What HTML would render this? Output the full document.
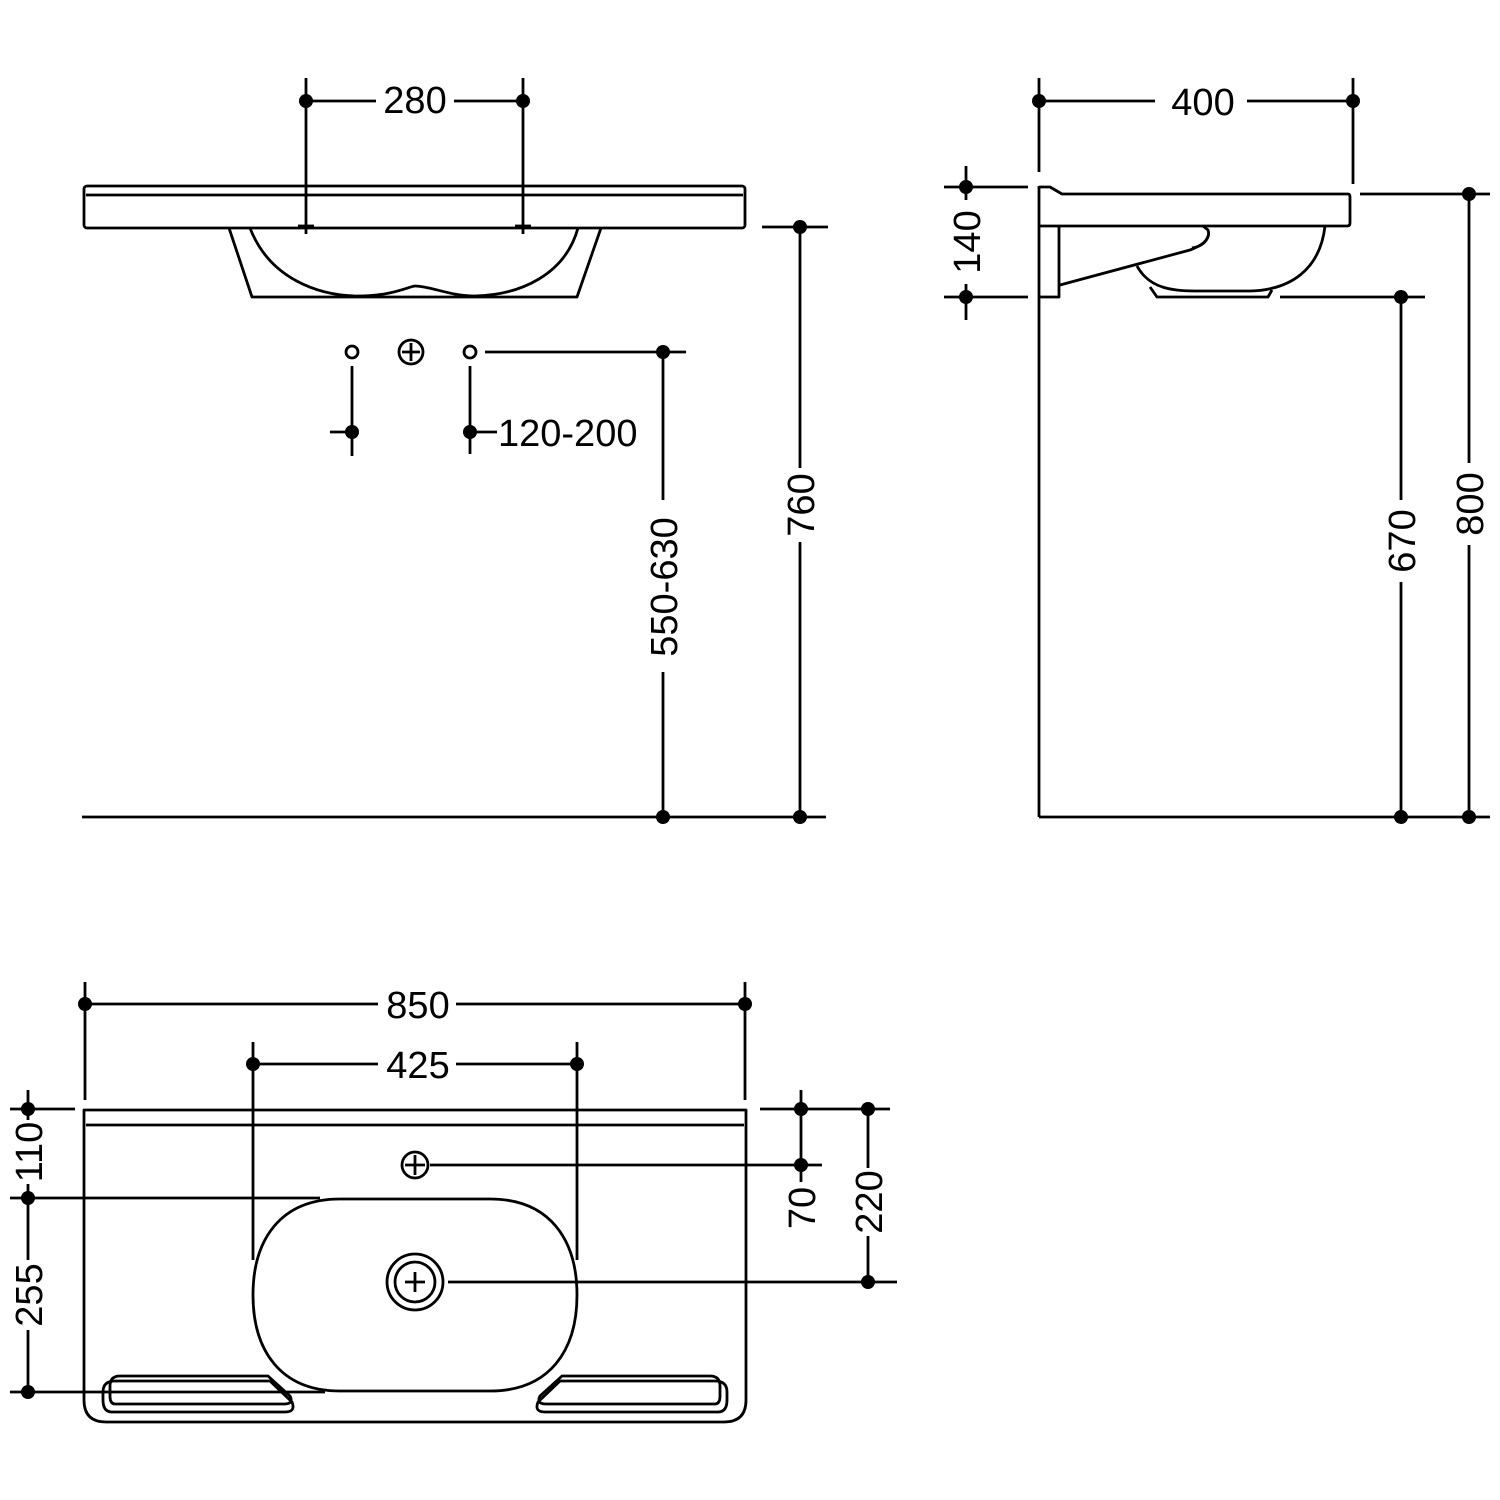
<!DOCTYPE html>
<html><head><meta charset="utf-8"><style>
html,body{margin:0;padding:0;background:#fff;}
svg{display:block;}
text{font-family:"Liberation Sans",Arial,sans-serif;font-size:38px;fill:#000;}
</style></head><body>
<svg width="1500" height="1500" viewBox="0 0 1500 1500" xmlns="http://www.w3.org/2000/svg">
<g fill="none" stroke="#000" stroke-width="2.8" stroke-linejoin="round">
<rect x="84" y="186" width="661" height="42" rx="3"/>
<line x1="86" y1="195" x2="743" y2="195"/>
<path d="M229,228 L252,297 L577,297 L601,228"/>
<path d="M250,228 C270,280 320,295 355,296 C390,297 410,286 415,286 C430,286 450,296 475,296 C520,295 565,275 578,228"/>
<line x1="306" y1="78" x2="306" y2="234"/>
<line x1="523" y1="78" x2="523" y2="234"/>
<line x1="298" y1="226" x2="314" y2="226"/>
<line x1="515" y1="226" x2="531" y2="226"/>
<line x1="306" y1="101" x2="376" y2="101"/>
<line x1="454" y1="101" x2="523" y2="101"/>
<circle cx="352" cy="352" r="6"/>
<circle cx="470" cy="352" r="6"/>
<circle cx="411" cy="352" r="12"/>
<line x1="411" y1="343" x2="411" y2="361"/><line x1="402" y1="352" x2="420" y2="352"/>
<line x1="352" y1="366" x2="352" y2="456"/>
<line x1="330" y1="432" x2="352" y2="432"/>
<line x1="470" y1="366" x2="470" y2="454"/>
<line x1="470" y1="432" x2="497" y2="432"/>
<line x1="485" y1="352" x2="686" y2="352"/>
<line x1="663" y1="352" x2="663" y2="500"/>
<line x1="663" y1="672" x2="663" y2="817"/>
<line x1="762" y1="227" x2="828" y2="227"/>
<line x1="800" y1="227" x2="800" y2="468"/>
<line x1="800" y1="542" x2="800" y2="817"/>
<line x1="82" y1="817" x2="826" y2="817"/>

<line x1="1039" y1="78" x2="1039" y2="172"/>
<line x1="1353" y1="78" x2="1353" y2="184"/>
<line x1="1039" y1="101" x2="1155" y2="101"/>
<line x1="1247" y1="101" x2="1353" y2="101"/>
<line x1="1039" y1="186" x2="1039" y2="817"/>
<line x1="1039" y1="817" x2="1490" y2="817"/>
<path d="M1039,187 L1050,187 L1062,194 L1348,194 Q1350,194 1350,197 L1350,223 Q1350,226 1347,226 L1039,226"/>
<path d="M1059,226 L1059,297 L1039,297"/>
<path d="M1060,285 L1190,250 Q1212,242 1208,230 L1203,226"/>
<path d="M1192,248 Q1205,246 1208,236"/>
<path d="M1137,266 C1150,290 1175,291 1200,291 L1250,291 C1290,290 1320,270 1325,226"/>
<path d="M1150,287 L1157,297 L1268,297 L1272,290"/>
<line x1="944" y1="187" x2="1028" y2="187"/>
<line x1="944" y1="297" x2="1028" y2="297"/>
<line x1="966" y1="166" x2="966" y2="200"/>
<line x1="966" y1="284" x2="966" y2="320"/>
<line x1="1280" y1="297" x2="1425" y2="297"/>
<line x1="1401" y1="297" x2="1401" y2="500"/>
<line x1="1401" y1="582" x2="1401" y2="817"/>
<line x1="1360" y1="194" x2="1490" y2="194"/>
<line x1="1469" y1="194" x2="1469" y2="463"/>
<line x1="1469" y1="545" x2="1469" y2="817"/>

<line x1="85" y1="982" x2="85" y2="1100"/>
<line x1="745" y1="982" x2="745" y2="1100"/>
<line x1="85" y1="1004" x2="378" y2="1004"/>
<line x1="456" y1="1004" x2="745" y2="1004"/>
<line x1="253" y1="1042" x2="253" y2="1260"/>
<line x1="577" y1="1042" x2="577" y2="1260"/>
<line x1="253" y1="1064" x2="378" y2="1064"/>
<line x1="456" y1="1064" x2="577" y2="1064"/>
<path d="M84,1110 L746,1110 L746,1400 Q746,1422 724,1422 L106,1422 Q84,1422 84,1400 Z"/>
<line x1="86" y1="1125" x2="744" y2="1125"/>
<circle cx="415" cy="1165" r="13"/>
<line x1="415" y1="1155" x2="415" y2="1175"/><line x1="405" y1="1165" x2="425" y2="1165"/>
<line x1="430" y1="1165" x2="822" y2="1165"/>
<path d="M340,1199 L490,1199 C550,1199 577,1240 577,1295 C577,1350 550,1391 490,1391 L340,1391 C280,1391 253,1350 253,1295 C253,1240 280,1199 340,1199 Z"/>
<circle cx="415" cy="1282" r="28"/>
<circle cx="415" cy="1282" r="20"/>
<line x1="415" y1="1272" x2="415" y2="1292"/><line x1="405" y1="1282" x2="425" y2="1282"/>
<line x1="448" y1="1282" x2="897" y2="1282"/>
<path d="M115,1381 L270,1381 L292,1402 Q296,1412 285,1412 L112,1412 Q103,1412 103,1400 L103,1392 Q103,1381 115,1381 Z"/>
<path d="M120,1376 L268,1376 L290,1396 Q294,1404 284,1404 L115,1404 Q110,1404 110,1396 L110,1386 Q110,1376 120,1376 Z"/>
<path d="M715,1381 L560,1381 L538,1402 Q534,1412 545,1412 L718,1412 Q727,1412 727,1400 L727,1392 Q727,1381 715,1381 Z"/>
<path d="M710,1376 L562,1376 L540,1396 Q536,1404 546,1404 L715,1404 Q720,1404 720,1396 L720,1386 Q720,1376 710,1376 Z"/>
<line x1="10" y1="1109" x2="75" y2="1109"/>
<line x1="10" y1="1198" x2="320" y2="1198"/>
<line x1="10" y1="1392" x2="325" y2="1392"/>
<line x1="28" y1="1090" x2="28" y2="1120"/>
<line x1="28" y1="1184" x2="28" y2="1260"/>
<line x1="28" y1="1330" x2="28" y2="1392"/>
<line x1="760" y1="1109" x2="890" y2="1109"/>
<line x1="801" y1="1090" x2="801" y2="1182"/>
<line x1="868" y1="1109" x2="868" y2="1168"/>
<line x1="868" y1="1236" x2="868" y2="1282"/>
</g>
<g fill="#000">
<circle cx="306" cy="101" r="7"/><circle cx="523" cy="101" r="7"/>
<circle cx="352" cy="432" r="7"/><circle cx="470" cy="432" r="7"/>
<circle cx="663" cy="352" r="7"/><circle cx="663" cy="817" r="7"/>
<circle cx="800" cy="227" r="7"/><circle cx="800" cy="817" r="7"/>
<circle cx="1039" cy="101" r="7"/><circle cx="1353" cy="101" r="7"/>
<circle cx="966" cy="187" r="7"/><circle cx="966" cy="297" r="7"/>
<circle cx="1401" cy="297" r="7"/><circle cx="1401" cy="817" r="7"/>
<circle cx="1469" cy="194" r="7"/><circle cx="1469" cy="817" r="7"/>
<circle cx="85" cy="1004" r="7"/><circle cx="745" cy="1004" r="7"/>
<circle cx="253" cy="1064" r="7"/><circle cx="577" cy="1064" r="7"/>
<circle cx="28" cy="1109" r="7"/><circle cx="28" cy="1198" r="7"/><circle cx="28" cy="1392" r="7"/>
<circle cx="801" cy="1109" r="7"/><circle cx="801" cy="1165" r="7"/>
<circle cx="868" cy="1109" r="7"/><circle cx="868" cy="1282" r="7"/>
</g>
<text x="415" y="113" text-anchor="middle">280</text>
<text x="498" y="446">120-200</text>
<text x="1203" y="115" text-anchor="middle">400</text>
<text x="418" y="1018" text-anchor="middle">850</text>
<text x="418" y="1078" text-anchor="middle">425</text>
<text transform="translate(677,587) rotate(-90)" text-anchor="middle">550-630</text>
<text transform="translate(814,505) rotate(-90)" text-anchor="middle">760</text>
<text transform="translate(980,242) rotate(-90)" text-anchor="middle">140</text>
<text transform="translate(1415,541) rotate(-90)" text-anchor="middle">670</text>
<text transform="translate(1483,504) rotate(-90)" text-anchor="middle">800</text>
<text transform="translate(42,1152) rotate(-90)" text-anchor="middle">110</text>
<text transform="translate(42,1295) rotate(-90)" text-anchor="middle">255</text>
<text transform="translate(815,1208) rotate(-90)" text-anchor="middle">70</text>
<text transform="translate(882,1202) rotate(-90)" text-anchor="middle">220</text>
</svg>
</body></html>
